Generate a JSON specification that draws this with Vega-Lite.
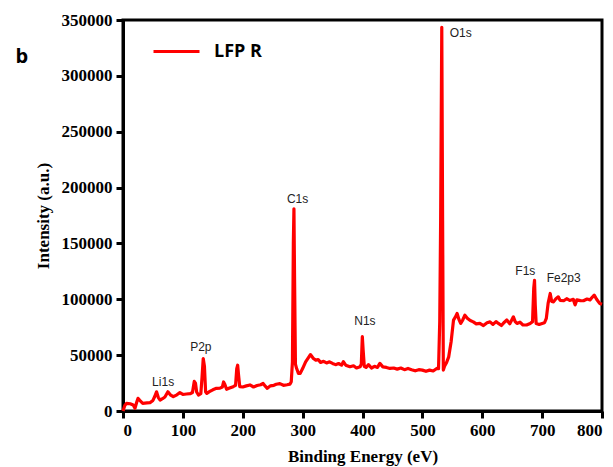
{
  "$schema": "https://vega.github.io/schema/vega-lite/v6.json",
  "autosize": {"type": "none"},
  "padding": {"left": 123, "top": 20, "right": 11, "bottom": 56},
  "width": 479,
  "height": 391,
  "background": "white",
  "config": {
    "view": {"stroke": "black", "strokeWidth": 3},
    "axis": {"grid": false, "domainColor": "black", "domainWidth": 3, "tickColor": "black", "tickWidth": 3,
      "labelFont": "Liberation Serif", "labelFontWeight": "bold", "labelFontSize": 17, "labelColor": "black",
      "titleFont": "Liberation Serif", "titleFontWeight": "bold", "titleFontSize": 17, "titleColor": "black"}
  },
  "datasets": {
    "spectrum": [
      {"e":0,"i":0},{"e":3,"i":5000},{"e":6,"i":6900},{"e":12,"i":6500},{"e":17,"i":5400},{"e":20,"i":2500},{"e":23,"i":8000},{"e":25,"i":11300},{"e":28,"i":9500},{"e":33,"i":6900},{"e":40,"i":7200},{"e":45,"i":7400},{"e":50,"i":9500},{"e":53,"i":13000},{"e":56,"i":17200},{"e":59,"i":12000},{"e":62,"i":9800},{"e":66,"i":11000},{"e":70,"i":12500},{"e":75,"i":17200},{"e":79,"i":14500},{"e":84,"i":12800},{"e":90,"i":14500},{"e":95,"i":16400},{"e":100,"i":14800},{"e":106,"i":15200},{"e":112,"i":15500},{"e":116,"i":16500},{"e":119,"i":26500},{"e":121,"i":25000},{"e":123,"i":17000},{"e":126,"i":14300},{"e":130,"i":15500},{"e":132,"i":30000},{"e":134,"i":47000},{"e":136,"i":40000},{"e":138,"i":17000},{"e":140,"i":15800},{"e":145,"i":17500},{"e":150,"i":19000},{"e":156,"i":20300},{"e":162,"i":20500},{"e":166,"i":21500},{"e":168,"i":26000},{"e":170,"i":24000},{"e":173,"i":19400},{"e":178,"i":20500},{"e":184,"i":21800},{"e":188,"i":23000},{"e":190,"i":38000},{"e":191.5,"i":41000},{"e":193,"i":32000},{"e":195,"i":21800},{"e":200,"i":21500},{"e":206,"i":22500},{"e":212,"i":23300},{"e":218,"i":21500},{"e":224,"i":22800},{"e":230,"i":23500},{"e":234,"i":24700},{"e":238,"i":22000},{"e":241,"i":20300},{"e":246,"i":22500},{"e":252,"i":23000},{"e":256,"i":23900},{"e":262,"i":24500},{"e":268,"i":23000},{"e":274,"i":23500},{"e":279,"i":24100},{"e":281,"i":26200},{"e":283,"i":44000},{"e":284.5,"i":150000},{"e":285.5,"i":181000},{"e":286.5,"i":120000},{"e":288,"i":42000},{"e":290,"i":38000},{"e":293,"i":33700},{"e":296,"i":33700},{"e":300,"i":38000},{"e":305,"i":44000},{"e":310,"i":48000},{"e":313,"i":50500},{"e":318,"i":47000},{"e":322,"i":45500},{"e":326,"i":46000},{"e":330,"i":43500},{"e":335,"i":44500},{"e":340,"i":43000},{"e":345,"i":44000},{"e":350,"i":42600},{"e":355,"i":41500},{"e":360,"i":42500},{"e":365,"i":41000},{"e":368,"i":44100},{"e":372,"i":41000},{"e":379,"i":39600},{"e":385,"i":40500},{"e":390,"i":38500},{"e":396,"i":39600},{"e":398,"i":42000},{"e":399.7,"i":66500},{"e":401,"i":55000},{"e":403,"i":40000},{"e":406,"i":39000},{"e":410,"i":41500},{"e":415,"i":38500},{"e":420,"i":40000},{"e":425,"i":39000},{"e":429,"i":42600},{"e":434,"i":39500},{"e":440,"i":39000},{"e":446,"i":38100},{"e":452,"i":38500},{"e":458,"i":37500},{"e":464,"i":38500},{"e":470,"i":37000},{"e":476,"i":38100},{"e":482,"i":37000},{"e":488,"i":36000},{"e":494,"i":37000},{"e":500,"i":36600},{"e":506,"i":35500},{"e":512,"i":36600},{"e":518,"i":35800},{"e":524,"i":38100},{"e":527,"i":38000},{"e":529,"i":80000},{"e":530.5,"i":170000},{"e":532.4,"i":343500},{"e":533.8,"i":170000},{"e":535,"i":36600},{"e":537,"i":40000},{"e":540,"i":42900},{"e":544,"i":48500},{"e":548,"i":62000},{"e":552,"i":81400},{"e":555,"i":84000},{"e":558,"i":87300},{"e":561,"i":82000},{"e":564,"i":78400},{"e":567,"i":81000},{"e":571,"i":85800},{"e":575,"i":83000},{"e":580,"i":81000},{"e":585,"i":79800},{"e":590,"i":78000},{"e":596,"i":78400},{"e":602,"i":76500},{"e":608,"i":79000},{"e":613,"i":79800},{"e":618,"i":77500},{"e":623,"i":80000},{"e":627,"i":78400},{"e":632,"i":76500},{"e":637,"i":79500},{"e":641,"i":81400},{"e":646,"i":78000},{"e":652,"i":84300},{"e":655,"i":80000},{"e":658,"i":78400},{"e":663,"i":79500},{"e":668,"i":77000},{"e":674,"i":77000},{"e":680,"i":78400},{"e":684,"i":80000},{"e":686,"i":110000},{"e":687.3,"i":117000},{"e":688.5,"i":95000},{"e":690,"i":78400},{"e":695,"i":77500},{"e":700,"i":78400},{"e":704,"i":79000},{"e":707,"i":82900},{"e":710,"i":96300},{"e":713.5,"i":105200},{"e":716,"i":98000},{"e":719,"i":97700},{"e":723,"i":100500},{"e":727,"i":102200},{"e":730,"i":99000},{"e":736,"i":98700},{"e":741,"i":100500},{"e":746,"i":99000},{"e":752,"i":100000},{"e":755,"i":95000},{"e":758,"i":99500},{"e":764,"i":98800},{"e":769,"i":98700},{"e":775,"i":100200},{"e":780,"i":99500},{"e":784,"i":102000},{"e":787,"i":103700},{"e":791,"i":100000},{"e":796,"i":96300},{"e":800,"i":95500}
    ],
    "peaks": [
      {"e":67,"i":26200,"name":"Li1s"},
      {"e":130,"i":57500,"name":"P2p"},
      {"e":291.6,"i":190000,"name":"C1s"},
      {"e":404,"i":80700,"name":"N1s"},
      {"e":564,"i":338500,"name":"O1s"},
      {"e":672,"i":125000,"name":"F1s"},
      {"e":736,"i":119500,"name":"Fe2p3"}
    ],
    "panel": [{"e":-169,"i":316500,"name":"b"}]
  },
  "layer": [
    {
      "data": {"name": "spectrum"},
      "transform": [{"calculate": "'LFP R'", "as": "series"}],
      "mark": {"type": "line", "strokeWidth": 3.2, "strokeJoin": "round"},
      "encoding": {
        "x": {"field": "e", "type": "quantitative", "scale": {"domain": [0, 800], "nice": false},
          "axis": {"title": "Binding Energy (eV)", "values": [0,50,100,150,200,250,300,350,400,450,500,550,600,650,700,750,800],
            "labelExpr": "datum.value % 100 === 0 ? datum.label : ''", "format": "d",
            "tickSize": 7, "labelPadding": 4, "titlePadding": 10}},
        "y": {"field": "i", "type": "quantitative", "scale": {"domain": [0, 350000], "nice": false},
          "axis": {"title": "Intensity (a.u.)", "values": [0,25000,50000,75000,100000,125000,150000,175000,200000,225000,250000,275000,300000,325000,350000],
            "labelExpr": "datum.value % 50000 === 0 ? datum.label : ''", "format": "d",
            "tickSize": 7, "labelPadding": 4, "titlePadding": 9}},
        "color": {"field": "series", "type": "nominal", "scale": {"range": ["#ff0000"]},
          "legend": {"title": null, "orient": "none", "legendX": 29, "legendY": 7, "symbolType": "stroke", "symbolSize": 2116,
            "symbolStrokeWidth": 3, "labelFont": "Open Sans", "labelFontWeight": "bold", "labelFontSize": 18, "labelColor": "black",
            "labelOffset": 13, "padding": 0}}
      }
    },
    {
      "data": {"name": "peaks"},
      "mark": {"type": "text", "font": "Liberation Sans", "fontSize": 12, "color": "#222222", "baseline": "middle", "align": "center"},
      "encoding": {
        "x": {"field": "e", "type": "quantitative"},
        "y": {"field": "i", "type": "quantitative"},
        "text": {"field": "name"}
      }
    },
    {
      "data": {"name": "panel"},
      "mark": {"type": "text", "font": "Open Sans", "fontWeight": "bold", "fontSize": 20, "color": "black", "baseline": "middle", "align": "center"},
      "encoding": {
        "x": {"field": "e", "type": "quantitative"},
        "y": {"field": "i", "type": "quantitative"},
        "text": {"field": "name"}
      }
    }
  ]
}
